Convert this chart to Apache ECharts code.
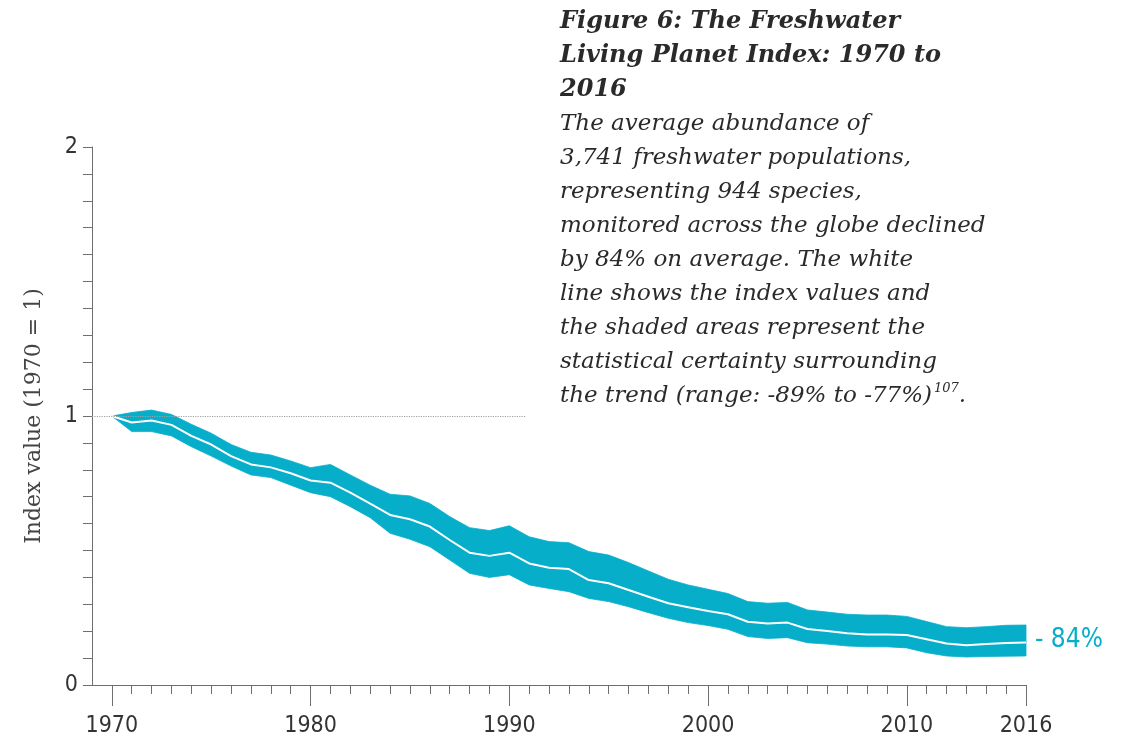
<!DOCTYPE html>
<html>
<head>
<meta charset="utf-8">
<script src="https://cdn.jsdelivr.net/npm/echarts@6/dist/echarts.min.js"></script>
<style>
html,body{margin:0;padding:0;background:#fff;}
#chart{width:1122px;height:741px;}
</style>
</head>
<body>
<div id="chart"></div>
<script>
// ---- data ----
var years = [1970,1971,1972,1973,1974,1975,1976,1977,1978,1979,
             1980,1981,1982,1983,1984,1985,1986,1987,1988,1989,
             1990,1991,1992,1993,1994,1995,1996,1997,1998,1999,
             2000,2001,2002,2003,2004,2005,2006,2007,2008,2009,
             2010,2011,2012,2013,2014,2015,2016];
var indexValues = [1.000,0.976,0.983,0.967,0.926,0.894,0.851,0.820,0.809,0.787,
                   0.760,0.752,0.715,0.674,0.632,0.616,0.589,0.539,0.492,0.480,
                   0.492,0.452,0.436,0.431,0.390,0.378,0.353,0.328,0.304,0.289,
                   0.275,0.263,0.235,0.229,0.232,0.208,0.201,0.192,0.188,0.188,
                   0.186,0.170,0.154,0.148,0.152,0.156,0.158];
var lowerValues = [1.000,0.942,0.942,0.926,0.886,0.851,0.814,0.781,0.771,0.743,
                   0.715,0.700,0.663,0.622,0.564,0.542,0.514,0.465,0.415,0.400,
                   0.410,0.372,0.359,0.347,0.322,0.310,0.291,0.269,0.248,0.232,
                   0.221,0.207,0.180,0.173,0.176,0.157,0.152,0.145,0.142,0.142,
                   0.138,0.120,0.108,0.104,0.106,0.107,0.108];
var upperValues = [1.000,1.013,1.022,1.006,0.969,0.936,0.894,0.865,0.855,0.833,
                   0.808,0.820,0.781,0.743,0.709,0.703,0.675,0.626,0.585,0.574,
                   0.592,0.551,0.533,0.529,0.496,0.483,0.455,0.424,0.393,0.372,
                   0.356,0.340,0.310,0.304,0.307,0.279,0.271,0.263,0.260,0.260,
                   0.255,0.236,0.217,0.213,0.217,0.222,0.223];
var xMin = 1969, xMax = 2016;
var xMajorTicks = [1970,1980,1990,2000,2010,2016];
var yLabelTicks = [0,1,2];
var yMinorTicks = [0,0.1,0.2,0.3,0.4,0.5,0.6,0.7,0.8,0.9,1,1.1,1.2,1.3,1.4,1.5,1.6,1.7,1.8,1.9,2];
var refLineValue = 1, refLineFrom = 1969, refLineTo = 1990.85;
var endLabelText = '- 84%';
var titleText = 'Figure 6: The Freshwater\nLiving Planet Index: 1970 to\n2016';
var bodyText = 'The average abundance of\n3,741 freshwater populations,\nrepresenting 944 species,\nmonitored across the globe declined\nby 84% on average. The white\nline shows the index values and\nthe shaded areas represent the\nstatistical certainty surrounding\nthe trend (range: -89% to -77%){sup|107}.';
var yAxisName = 'Index value (1970 = 1)';

// ---- build ----
var teal = '#06aeca';
var axisGray = '#6f6f6f';
var narrow = "'Liberation Sans Narrow', 'DejaVu Sans Condensed', 'Arial Narrow', sans-serif";
var serif = "'DejaVu Serif', Georgia, serif";

var bandRows = years.map(function (y, i) { return [y, lowerValues[i], upperValues[i]]; });
var indexData = years.map(function (y, i) { return [y, indexValues[i]]; });

function renderBand(params, api) {
  if (params.dataIndex !== 0) return null;
  var pts = [];
  var n = bandRows.length;
  for (var i = 0; i < n; i++) pts.push(api.coord([bandRows[i][0], bandRows[i][2]]));
  for (var j = n - 1; j >= 0; j--) pts.push(api.coord([bandRows[j][0], bandRows[j][1]]));
  return {
    type: 'polygon',
    shape: {points: pts},
    style: {fill: teal, stroke: teal, lineWidth: 0.8, lineJoin: 'round'}
  };
}

var chart = echarts.init(document.getElementById('chart'), null, {renderer: 'canvas'});
chart.setOption({
  animation: false,
  backgroundColor: '#ffffff',
  title: [{
    text: titleText,
    left: 560, top: 5, padding: 0,
    textStyle: {fontFamily: serif, fontStyle: 'italic', fontWeight: 'bold', fontSize: 24, lineHeight: 34, color: '#2a2a2a'}
  }, {
    text: bodyText,
    left: 560, top: 107, padding: 0,
    textStyle: {fontFamily: serif, fontStyle: 'italic', fontWeight: 'normal', fontSize: 23, lineHeight: 34, color: '#2a2a2a',
      rich: {sup: {fontFamily: serif, fontStyle: 'italic', fontSize: 13, color: '#2a2a2a', padding: [0, 0, 14, 2]}}}
  }],
  grid: {left: 92, right: 96, top: 147, bottom: 56, containLabel: false},
  xAxis: [{
    type: 'value', min: xMin, max: xMax,
    axisLine: {show: true, lineStyle: {color: axisGray, width: 1}},
    axisTick: {show: true, customValues: years, length: 9, lineStyle: {color: axisGray, width: 1}},
    axisLabel: {show: false},
    splitLine: {show: false}
  }, {
    type: 'value', min: xMin, max: xMax, position: 'bottom',
    axisLine: {show: false},
    axisTick: {show: true, customValues: xMajorTicks, length: 21, lineStyle: {color: axisGray, width: 1}},
    axisLabel: {show: true, customValues: xMajorTicks, fontFamily: narrow, fontSize: 23, color: '#333', margin: 30,
      formatter: function (v) { return String(v); }},
    splitLine: {show: false}
  }],
  yAxis: {
    type: 'value', min: 0, max: 2, interval: 1,
    name: yAxisName, nameLocation: 'middle', nameGap: 47, nameRotate: 90,
    nameTextStyle: {fontFamily: serif, fontSize: 22, color: '#444'},
    axisLine: {show: true, lineStyle: {color: axisGray, width: 1}},
    axisTick: {show: true, customValues: yMinorTicks, length: 9, lineStyle: {color: axisGray, width: 1}},
    axisLabel: {show: true, customValues: yLabelTicks, fontFamily: narrow, fontSize: 23, color: '#333', margin: 14},
    splitLine: {show: false}
  },
  series: [{
    name: 'band', type: 'custom', data: bandRows,
    encode: {x: 0, y: [1, 2]},
    renderItem: renderBand, silent: true, z: 2
  }, {
    name: 'index', type: 'line', data: indexData,
    symbol: 'none', lineStyle: {color: '#ffffff', width: 2, join: 'round'}, silent: true, z: 4,
    endLabel: {show: true, formatter: endLabelText, color: teal, fontFamily: narrow, fontSize: 26, distance: 9, offset: [0, -2]},
    markLine: {
      silent: true, symbol: 'none', animation: false,
      label: {show: false},
      lineStyle: {type: 'dotted', color: '#a0a0a0', width: 1.2},
      data: [[{coord: [refLineFrom, refLineValue]}, {coord: [refLineTo, refLineValue]}]]
    }
  }]
});
</script>
</body>
</html>
